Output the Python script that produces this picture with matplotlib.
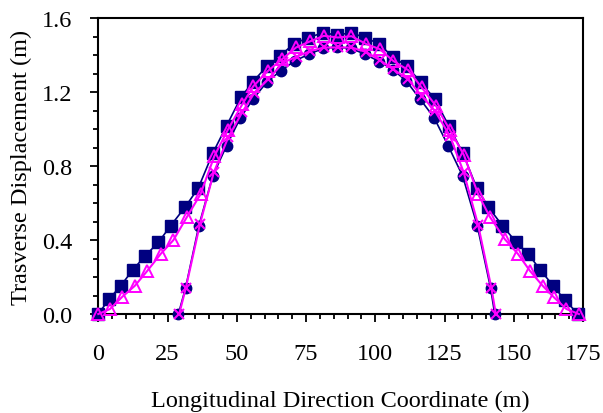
import matplotlib
matplotlib.use("Agg")
import matplotlib.pyplot as plt
from matplotlib.ticker import MultipleLocator, FormatStrFormatter

plt.rcParams['font.family'] = ['Liberation Serif', 'DejaVu Serif']

# wide profile: squares (navy) and triangles (magenta)
sq_x = [0, 3.9, 8.1, 12.4, 16.9, 21.7, 26.1, 31.3, 36.1, 41.3, 46.3, 51.5, 55.8,
        61.0, 65.7, 70.6, 75.8, 81.0, 86.1, 91.3, 96.2, 101.4, 106.3, 111.3,
        116.4, 121.5, 126.5, 131.6, 136.6, 140.7, 145.9, 150.9, 155.2, 159.6,
        164.2, 168.4, 173.2]
sq_y = [0.0, 0.081, 0.153, 0.238, 0.315, 0.388, 0.478, 0.578, 0.682, 0.870,
        1.019, 1.173, 1.257, 1.344, 1.398, 1.464, 1.495, 1.523, 1.510, 1.523,
        1.496, 1.463, 1.391, 1.344, 1.254, 1.163, 1.019, 0.871, 0.683, 0.581,
        0.478, 0.388, 0.325, 0.238, 0.153, 0.076, 0.0]

tri_x = [0.0, 4.2, 8.7, 13.2, 17.7, 22.5, 27.1, 31.9, 36.9, 41.9, 46.7, 52.0,
         55.9, 61.3, 66.4, 71.4, 76.6, 81.4, 86.5, 91.4, 96.8, 101.6, 106.4,
         111.9, 116.7, 121.9, 126.9, 132.0, 137.1, 141.3, 146.7, 151.5, 155.8,
         160.4, 164.5, 169.0, 173.5]
tri_y = [0.0, 0.027, 0.094, 0.153, 0.234, 0.325, 0.400, 0.523, 0.649, 0.855,
         0.996, 1.136, 1.232, 1.317, 1.380, 1.443, 1.477, 1.506, 1.497, 1.504,
         1.461, 1.434, 1.371, 1.320, 1.227, 1.127, 0.997, 0.860, 0.649, 0.527,
         0.406, 0.325, 0.234, 0.153, 0.090, 0.027, 0.0]

# narrow profile: circles (navy) and crosses (magenta)
cir_x = [28.9, 31.5, 36.3, 41.3, 46.3, 51.3, 55.8, 60.9, 65.9, 71.0, 76.1, 81.2,
         86.1, 91.2, 96.2, 101.4, 106.4, 111.2, 116.2, 121.2, 126.3, 131.5,
         136.8, 141.6, 143.1]
cir_y = [0.0, 0.141, 0.478, 0.747, 0.911, 1.062, 1.162, 1.257, 1.317, 1.371,
         1.407, 1.438, 1.445, 1.438, 1.407, 1.367, 1.323, 1.261, 1.163, 1.063,
         0.911, 0.748, 0.478, 0.141, 0.0]

crs_x = [29.2, 31.6, 36.7, 41.7, 46.9, 51.9, 56.2, 61.4, 66.8, 71.6, 76.4, 81.5,
         86.6, 91.4, 96.8, 101.6, 106.4, 111.7, 116.7, 121.5, 126.9, 131.9,
         137.1, 141.9, 143.5]
crs_y = [0.0, 0.141, 0.487, 0.767, 0.956, 1.091, 1.194, 1.272, 1.362, 1.393,
         1.423, 1.443, 1.443, 1.443, 1.418, 1.374, 1.326, 1.272, 1.181, 1.100,
         0.965, 0.767, 0.483, 0.141, 0.0]

navy = '#000080'
magenta = '#FF00FF'

fig = plt.figure(figsize=(6.03, 4.14), dpi=100)
ax = fig.add_axes([0.163, 0.239, 0.804, 0.714])

ax.plot(sq_x, sq_y, color=navy, lw=1.2, marker='s', ms=8.5,
        mfc=navy, mec=navy, clip_on=False, zorder=3)
ax.plot(cir_x, cir_y, color=navy, lw=1.2, marker='o', ms=7.5,
        mfc=navy, mec=navy, clip_on=False, zorder=3)
ax.plot(tri_x, tri_y, color=magenta, lw=1.5, marker='^', ms=8.5,
        mfc='none', mec=magenta, mew=1.4, clip_on=False, zorder=4)
ax.plot(crs_x, crs_y, color=magenta, lw=1.5, marker='x', ms=7,
        mec=magenta, mew=1.5, clip_on=False, zorder=4)

ax.set_xlim(0, 175)
ax.set_ylim(0, 1.6)
ax.xaxis.set_major_locator(MultipleLocator(25))
ax.xaxis.set_minor_locator(MultipleLocator(5))
ax.yaxis.set_major_locator(MultipleLocator(0.4))
ax.yaxis.set_minor_locator(MultipleLocator(0.1))
ax.yaxis.set_major_formatter(FormatStrFormatter('%.1f'))

for s in ax.spines.values():
    s.set_linewidth(1.5)
ax.tick_params(which='both', direction='out', top=False, right=False, width=1.3)
ax.tick_params(which='major', length=6, labelsize=17.5)
ax.tick_params(which='minor', length=3.5)
ax.tick_params(axis='y', which='major', pad=13)
ax.tick_params(axis='x', which='major', pad=14.5)

ax.set_xlabel("Longitudinal Direction Coordinate (m)", fontsize=17.5, labelpad=19)
ax.set_ylabel("Trasverse Displacement (m)", fontsize=17.5, labelpad=7)

fig.savefig("out.png", dpi=100)
